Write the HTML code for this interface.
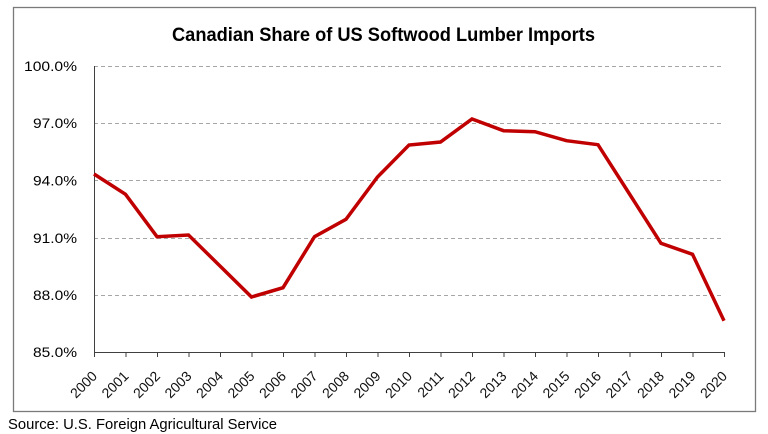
<!DOCTYPE html>
<html><head><meta charset="utf-8"><style>
html,body{margin:0;padding:0;background:#fff;width:768px;height:434px;overflow:hidden}
svg{display:block}
</style></head><body>
<svg width="768" height="434" viewBox="0 0 768 434" xmlns="http://www.w3.org/2000/svg">
<rect x="0" y="0" width="768" height="434" fill="#fff"/>
<rect x="13.5" y="7.5" width="742" height="404" fill="#fff" stroke="#7a7a7a" stroke-width="1.3"/>
<text x="383.5" y="41" text-anchor="middle" font-family="Liberation Sans, sans-serif" font-weight="bold" font-size="19" textLength="423" lengthAdjust="spacingAndGlyphs" fill="#000">Canadian Share of US Softwood Lumber Imports</text>
<g stroke="#a6a6a6" stroke-width="1" stroke-dasharray="4 3" fill="none">
<line x1="94" y1="66.5" x2="724" y2="66.5"/>
<line x1="94" y1="123.5" x2="724" y2="123.5"/>
<line x1="94" y1="180.5" x2="724" y2="180.5"/>
<line x1="94" y1="238.5" x2="724" y2="238.5"/>
<line x1="94" y1="295.5" x2="724" y2="295.5"/>
</g>
<g font-family="Liberation Sans, sans-serif" font-size="13.5" fill="#000" text-anchor="end">
<text x="77" y="71" textLength="53" lengthAdjust="spacingAndGlyphs">100.0%</text>
<text x="77" y="128" textLength="44" lengthAdjust="spacingAndGlyphs">97.0%</text>
<text x="77" y="185.5" textLength="44" lengthAdjust="spacingAndGlyphs">94.0%</text>
<text x="77" y="243" textLength="44" lengthAdjust="spacingAndGlyphs">91.0%</text>
<text x="77" y="300" textLength="44" lengthAdjust="spacingAndGlyphs">88.0%</text>
<text x="77" y="357" textLength="44" lengthAdjust="spacingAndGlyphs">85.0%</text>
</g>
<g stroke="#404040" stroke-width="1" fill="none">
<line x1="94.5" y1="66" x2="94.5" y2="352.5"/>
<line x1="94" y1="352.5" x2="724.5" y2="352.5"/>
<path d="M94.5 352v5 M126 352v5 M157.5 352v5 M189 352v5 M220.5 352v5 M252 352v5 M283.5 352v5 M315 352v5 M346.5 352v5 M378 352v5 M409.5 352v5 M441 352v5 M472.5 352v5 M504 352v5 M535.5 352v5 M567 352v5 M598.5 352v5 M630 352v5 M661.5 352v5 M693 352v5 M724.5 352v5"/>
</g>
<g font-family="Liberation Sans, sans-serif" font-size="14" fill="#111" text-anchor="end">
<text transform="translate(98,377) rotate(-45)">2000</text>
<text transform="translate(129.5,377) rotate(-45)">2001</text>
<text transform="translate(161,377) rotate(-45)">2002</text>
<text transform="translate(192.5,377) rotate(-45)">2003</text>
<text transform="translate(224,377) rotate(-45)">2004</text>
<text transform="translate(255.5,377) rotate(-45)">2005</text>
<text transform="translate(287,377) rotate(-45)">2006</text>
<text transform="translate(318.5,377) rotate(-45)">2007</text>
<text transform="translate(350,377) rotate(-45)">2008</text>
<text transform="translate(381.5,377) rotate(-45)">2009</text>
<text transform="translate(413,377) rotate(-45)">2010</text>
<text transform="translate(444.5,377) rotate(-45)">2011</text>
<text transform="translate(476,377) rotate(-45)">2012</text>
<text transform="translate(507.5,377) rotate(-45)">2013</text>
<text transform="translate(539,377) rotate(-45)">2014</text>
<text transform="translate(570.5,377) rotate(-45)">2015</text>
<text transform="translate(602,377) rotate(-45)">2016</text>
<text transform="translate(633.5,377) rotate(-45)">2017</text>
<text transform="translate(665,377) rotate(-45)">2018</text>
<text transform="translate(696.5,377) rotate(-45)">2019</text>
<text transform="translate(728,377) rotate(-45)">2020</text>
</g>
<polyline fill="none" stroke="#c00000" stroke-width="3.5" stroke-linejoin="miter" stroke-linecap="butt"
points="94,174 125.5,194.3 157,236.7 188.5,235 220,266 251.5,297 283,287.7 314.5,236.7 346,219.3 377.5,177 409,145 440.5,142 472,119 503.5,130.7 535,131.7 566.5,140.7 598,144.7 629.5,194 661,243.3 692.5,254.3 724,320.7"/>
<text x="8" y="429" font-family="Liberation Sans, sans-serif" font-size="14.5" fill="#000" textLength="269" lengthAdjust="spacingAndGlyphs">Source: U.S. Foreign Agricultural Service</text>
</svg>
</body></html>
